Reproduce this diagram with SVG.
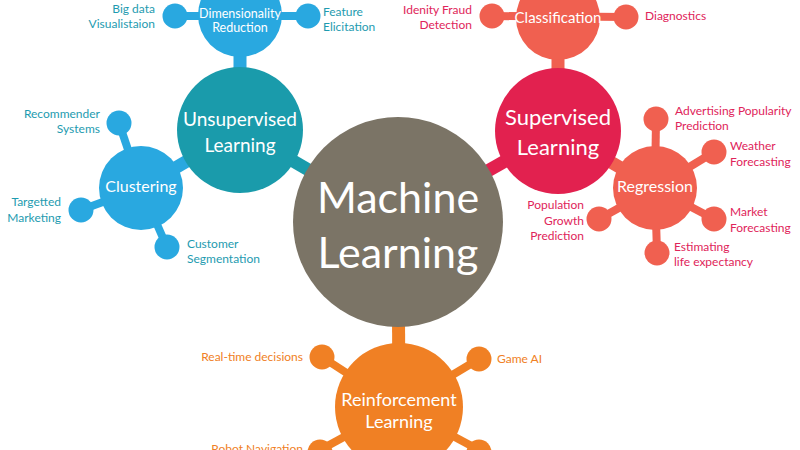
<svg xmlns="http://www.w3.org/2000/svg" width="800" height="450" viewBox="0 0 800 450">
<style>
text{font-family:Lato,"Open Sans","Liberation Sans",sans-serif}
.w{fill:#fff;text-anchor:middle}
.lt{fill:#1e9bb0;font-size:12px}
.ls{fill:#e0245a;font-size:12px}
.lo{fill:#f08024;font-size:12px}
.e{text-anchor:end}
.blue{fill:#29a8e0}.teal{fill:#1a9bab}.crim{fill:#e2214f}.coral{fill:#f06050}.orng{fill:#f08024}.gray{fill:#7b7466}
.sb{stroke:#29a8e0}.st{stroke:#1a9bab}.sc{stroke:#e2214f}.sk{stroke:#f06050}.so{stroke:#f08024}
.thick{stroke-width:13}.thin{stroke-width:8}
</style>
<rect width="800" height="450" fill="#fff"/>
<g id="connectors" fill="none">
<line class="st thick" x1="240" y1="130" x2="398" y2="222"/>
<line class="sb thick" x1="240" y1="15" x2="240" y2="130"/>
<line class="sb thick" x1="141" y1="188" x2="240" y2="130"/>
<line class="sb thin" x1="175" y1="16" x2="308" y2="16"/>
<line class="sb thin" x1="119" y1="123" x2="141" y2="188"/>
<line class="sb thin" x1="81" y1="210" x2="141" y2="188"/>
<line class="sb thin" x1="167" y1="247" x2="141" y2="188"/>
<line class="sc thick" x1="558" y1="131" x2="398" y2="222"/>
<line class="sk thick" x1="558" y1="18" x2="558" y2="131"/>
<line class="sk thick" x1="655" y1="188" x2="558" y2="131"/>
<line class="sk thin" x1="492" y1="16" x2="626" y2="17"/>
<line class="sk thin" x1="656" y1="119" x2="655" y2="188"/>
<line class="sk thin" x1="714" y1="152" x2="655" y2="188"/>
<line class="sk thin" x1="714" y1="219" x2="655" y2="188"/>
<line class="sk thin" x1="657" y1="253" x2="655" y2="188"/>
<line class="sk thin" x1="599" y1="219" x2="655" y2="188"/>
<line class="so thick" x1="398" y1="222" x2="399" y2="407"/>
<line class="so thin" x1="322" y1="357" x2="399" y2="407"/>
<line class="so thin" x1="479" y1="359" x2="399" y2="407"/>
<line class="so thin" x1="320" y1="450" x2="399" y2="407"/>
<line class="so thin" x1="479" y1="450" x2="399" y2="407"/>
</g>
<g id="machine-learning"><circle class="gray" cx="398" cy="222" r="105"/><text class="w" x="398" y="213" font-size="43">Machine</text><text class="w" x="398" y="268" font-size="43">Learning</text></g>
<g id="unsupervised"><circle class="teal" cx="240" cy="130" r="63"/><text class="w" x="240" y="126" font-size="19">Unsupervised</text><text class="w" x="240" y="152" font-size="19">Learning</text></g>
<g id="dimensionality"><circle class="blue" cx="240" cy="15" r="42"/><text class="w" x="240" y="18" font-size="12.5">Dimensionality</text><text class="w" x="240" y="32" font-size="12.5">Reduction</text></g>
<g id="clustering"><circle class="blue" cx="141" cy="188" r="42"/><text class="w" x="141" y="192" font-size="16">Clustering</text></g>
<g id="big-data"><circle class="blue" cx="175" cy="16" r="12.5"/><text class="lt e" x="155" y="13">Big data</text><text class="lt e" x="155" y="28">Visualistaion</text></g>
<g id="feature"><circle class="blue" cx="308" cy="16" r="12.5"/><text class="lt" x="323" y="16">Feature</text><text class="lt" x="323" y="31">Elicitation</text></g>
<g id="recommender"><circle class="blue" cx="119" cy="123" r="12.5"/><text class="lt e" x="100" y="118">Recommender</text><text class="lt e" x="100" y="133">Systems</text></g>
<g id="targetted"><circle class="blue" cx="81" cy="210" r="12.5"/><text class="lt e" x="61" y="206">Targetted</text><text class="lt e" x="61" y="222">Marketing</text></g>
<g id="customer"><circle class="blue" cx="167" cy="247" r="12.5"/><text class="lt" x="187" y="248">Customer</text><text class="lt" x="187" y="263">Segmentation</text></g>
<g id="supervised"><circle class="crim" cx="558" cy="131" r="63"/><text class="w" x="558" y="125" font-size="22">Supervised</text><text class="w" x="558" y="155" font-size="22">Learning</text></g>
<g id="classification"><circle class="coral" cx="558" cy="18" r="42"/><text class="w" x="558" y="23" font-size="15">Classification</text></g>
<g id="regression"><circle class="coral" cx="655" cy="188" r="42"/><text class="w" x="655" y="192" font-size="16">Regression</text></g>
<g id="fraud"><circle class="coral" cx="492" cy="16" r="12.5"/><text class="ls e" x="472" y="14">Idenity Fraud</text><text class="ls e" x="472" y="29">Detection</text></g>
<g id="diagnostics"><circle class="coral" cx="626" cy="17" r="12.5"/><text class="ls" x="645" y="20">Diagnostics</text></g>
<g id="advertising"><circle class="coral" cx="656" cy="119" r="12.5"/><text class="ls" x="675" y="115">Advertising Popularity</text><text class="ls" x="675" y="130">Prediction</text></g>
<g id="weather"><circle class="coral" cx="714" cy="152" r="12.5"/><text class="ls" x="730" y="150">Weather</text><text class="ls" x="730" y="166">Forecasting</text></g>
<g id="market"><circle class="coral" cx="714" cy="219" r="12.5"/><text class="ls" x="730" y="216">Market</text><text class="ls" x="730" y="232">Forecasting</text></g>
<g id="estimating"><circle class="coral" cx="657" cy="253" r="12.5"/><text class="ls" x="674" y="251">Estimating</text><text class="ls" x="674" y="266">life expectancy</text></g>
<g id="population"><circle class="coral" cx="599" cy="219" r="12.5"/><text class="ls e" x="584" y="209">Population</text><text class="ls e" x="584" y="225">Growth</text><text class="ls e" x="584" y="240">Prediction</text></g>
<g id="reinforcement"><circle class="orng" cx="399" cy="407" r="64"/><text class="w" x="399" y="406" font-size="18">Reinforcement</text><text class="w" x="399" y="428" font-size="18">Learning</text></g>
<g id="realtime"><circle class="orng" cx="322" cy="357" r="12.5"/><text class="lo e" x="303" y="361">Real-time decisions</text></g>
<g id="gameai"><circle class="orng" cx="479" cy="359" r="12.5"/><text class="lo" x="497" y="363">Game AI</text></g>
<g id="robot"><circle class="orng" cx="320" cy="452" r="12.5"/><text class="lo e" x="303" y="453">Robot Navigation</text></g>
<g id="bottom-right"><circle class="orng" cx="479" cy="452" r="12.5"/></g>
</svg>
